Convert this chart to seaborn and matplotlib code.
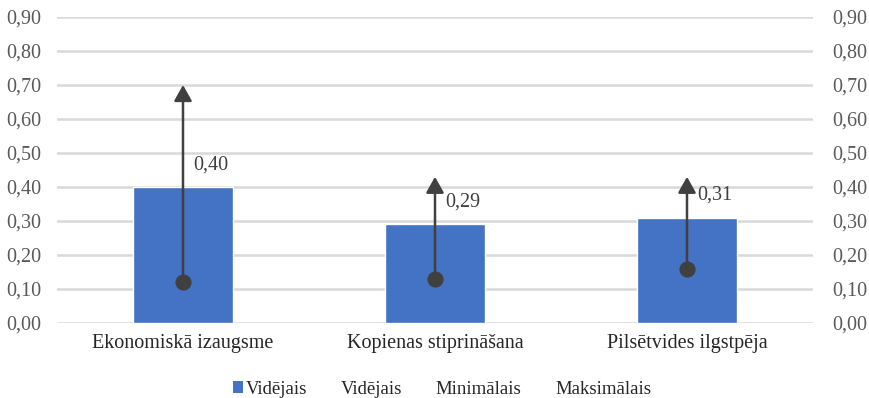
import matplotlib
matplotlib.use("Agg")
import matplotlib.pyplot as plt
from matplotlib.lines import Line2D
from matplotlib.patches import Patch
from matplotlib.ticker import FuncFormatter, MultipleLocator
import seaborn as sns
import pandas as pd

categories = ["Ekonomiskā izaugsme", "Kopienas stiprināšana", "Pilsētvides ilgstpēja"]
avg_values = [0.40, 0.29, 0.31]
min_values = [0.12, 0.13, 0.16]
max_values = [0.70, 0.43, 0.43]
legend_labels = ["Vidējais", "Vidējais", "Minimālais", "Maksimālais"]

sns.set_theme(style="white")
plt.rcParams["font.family"] = "serif"
plt.rcParams["font.serif"] = ["Liberation Serif", "DejaVu Serif"]

BAR = "#4472C4"
DARK = "#404040"
TICK = "#595959"
GRID = "#D9D9D9"
FS = 14.5

df = pd.DataFrame({"cat": categories, "avg": avg_values})

fig = plt.figure(figsize=(8.69, 3.98), dpi=100)
ax = fig.add_axes([57 / 869, 1 - 323 / 398, (813 - 57) / 869, (323 - 17) / 398])

sns.barplot(data=df, x="cat", y="avg", color=BAR, width=0.4, ax=ax, zorder=2,
            saturation=1)

ax.set_ylim(0, 0.90)
ax.set_xlim(-0.5, 2.5)
ax.yaxis.set_major_locator(MultipleLocator(0.1))
fmt = FuncFormatter(lambda v, p: f"{v:.2f}".replace(".", ","))
ax.yaxis.set_major_formatter(fmt)
ax.grid(axis="y", color=GRID, linewidth=1.8, zorder=0)
ax.set_axisbelow(True)
for s in ax.spines.values():
    s.set_visible(False)
ax.set_xlabel("")
ax.set_ylabel("")
ax.tick_params(axis="y", labelsize=FS, colors=TICK, length=0, pad=11)
ax.tick_params(axis="x", labelsize=FS, colors="#262626", length=0, pad=8)

# min-to-max arrows and minimum points
for i, (lo, hi) in enumerate(zip(min_values, max_values)):
    ax.annotate("", xy=(i, hi), xytext=(i, lo),
                arrowprops=dict(arrowstyle="-|>,head_length=0.8,head_width=0.45",
                                color=DARK, lw=1.8, shrinkA=0, shrinkB=0),
                zorder=4)
ax.scatter(range(len(categories)), min_values, s=135, color=DARK, zorder=5,
           linewidth=0)

# data labels for the averages
for i, v in enumerate(avg_values):
    ax.text(i + 0.04, v + 0.065, f"{v:.2f}".replace(".", ","), fontsize=FS,
            color=DARK, ha="left", va="center")

# secondary axis with the same scale
ax2 = ax.twinx()
ax2.set_ylim(ax.get_ylim())
ax2.yaxis.set_major_locator(MultipleLocator(0.1))
ax2.yaxis.set_major_formatter(fmt)
ax2.tick_params(axis="y", labelsize=FS, colors=TICK, length=0, pad=14)
ax2.grid(False)
for s in ax2.spines.values():
    s.set_visible(False)

handles = [Patch(facecolor=BAR, edgecolor="none"),
           Line2D([], [], linestyle="none"),
           Line2D([], [], linestyle="none"),
           Line2D([], [], linestyle="none")]
fig.legend(handles, legend_labels, loc="center", bbox_to_anchor=(0.509, 1 - 389 / 398),
           ncol=4, frameon=False, fontsize=13.5, handlelength=0.5, handleheight=0.55,
           handletextpad=0.15, columnspacing=1.15, labelcolor="#262626")

fig.savefig("out.png", dpi=100)
